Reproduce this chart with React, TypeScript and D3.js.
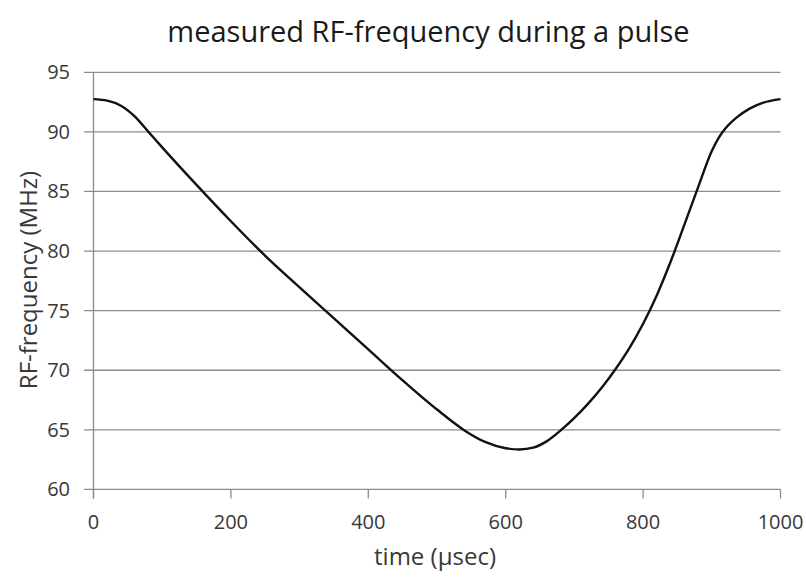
import React from "react";
import * as d3 from "d3";

const title = "measured RF-frequency during a pulse";
const xLabel = "time (\u00b5sec)";
const yLabel = "RF-frequency (MHz)";

const xTicks = [0, 200, 400, 600, 800, 1000];
const yTicks = [60, 65, 70, 75, 80, 85, 90, 95];

const times = [0, 20, 40, 60, 80, 100, 150, 200, 250, 300, 350, 400, 450, 500, 540, 570, 600, 620, 640, 660, 680, 700, 720, 740, 760, 780, 800, 820, 840, 860, 880, 900, 910, 920, 935, 955, 975, 1000];
const freqs = [92.75, 92.62, 92.2, 91.3, 90.0, 88.7, 85.55, 82.5, 79.6, 76.95, 74.35, 71.75, 69.15, 66.7, 64.95, 63.98, 63.45, 63.35, 63.5, 64.05, 64.95, 66.0, 67.2, 68.55, 70.1, 71.85, 73.9, 76.3, 79.1, 82.2, 85.35, 88.4, 89.5, 90.3, 91.15, 91.95, 92.45, 92.75];

const W = 806;
const H = 578;
const left = 93.5;
const right = 780.5;
const top = 72.3;
const bottom = 489.4;

export default function App() {
  const x = d3.scaleLinear().domain([0, 1000]).range([left, right]);
  const y = d3.scaleLinear().domain([60, 95]).range([bottom, top]);
  const data = times.map((t, i) => [t, freqs[i]] as [number, number]);
  const line = d3
    .line<[number, number]>()
    .x((d) => x(d[0]))
    .y((d) => y(d[1]))
    .curve(d3.curveMonotoneX);
  const grid = "#8c8c8c";
  const font = "'Open Sans', sans-serif";
  const textColor = "#383838";
  return (
    <svg
      width={W}
      height={H}
      style={{ position: "absolute", left: 0, top: 0, background: "#fff" }}
    >
      <text x={428.5} y={42} textAnchor="middle" fontFamily={font} fontSize={29} fill="#1a1a1a">
        {title}
      </text>
      {yTicks.map((v) => (
        <g key={"y" + v}>
          <line x1={84} x2={right} y1={y(v)} y2={y(v)} stroke={grid} strokeWidth={1.3} />
          <text x={70} y={y(v) + 7} textAnchor="end" fontFamily={font} fontSize={20} fill={textColor}>
            {v}
          </text>
        </g>
      ))}
      <line x1={left} x2={left} y1={top} y2={bottom + 9} stroke={grid} strokeWidth={1.3} />
      {xTicks.map((v) => (
        <g key={"x" + v}>
          <line x1={x(v)} x2={x(v)} y1={bottom} y2={bottom + 9} stroke={grid} strokeWidth={1.3} />
          <text x={x(v)} y={529} textAnchor="middle" fontFamily={font} fontSize={20} fill={textColor}>
            {v}
          </text>
        </g>
      ))}
      <path d={line(data) || ""} fill="none" stroke="#111" strokeWidth={2.4} />
      <text x={435} y={565} textAnchor="middle" fontFamily={font} fontSize={24} fill={textColor}>
        {xLabel}
      </text>
      <text
        transform={`translate(37, 280) rotate(-90)`}
        textAnchor="middle"
        fontFamily={font}
        fontSize={24}
        fill={textColor}
      >
        {yLabel}
      </text>
    </svg>
  );
}
